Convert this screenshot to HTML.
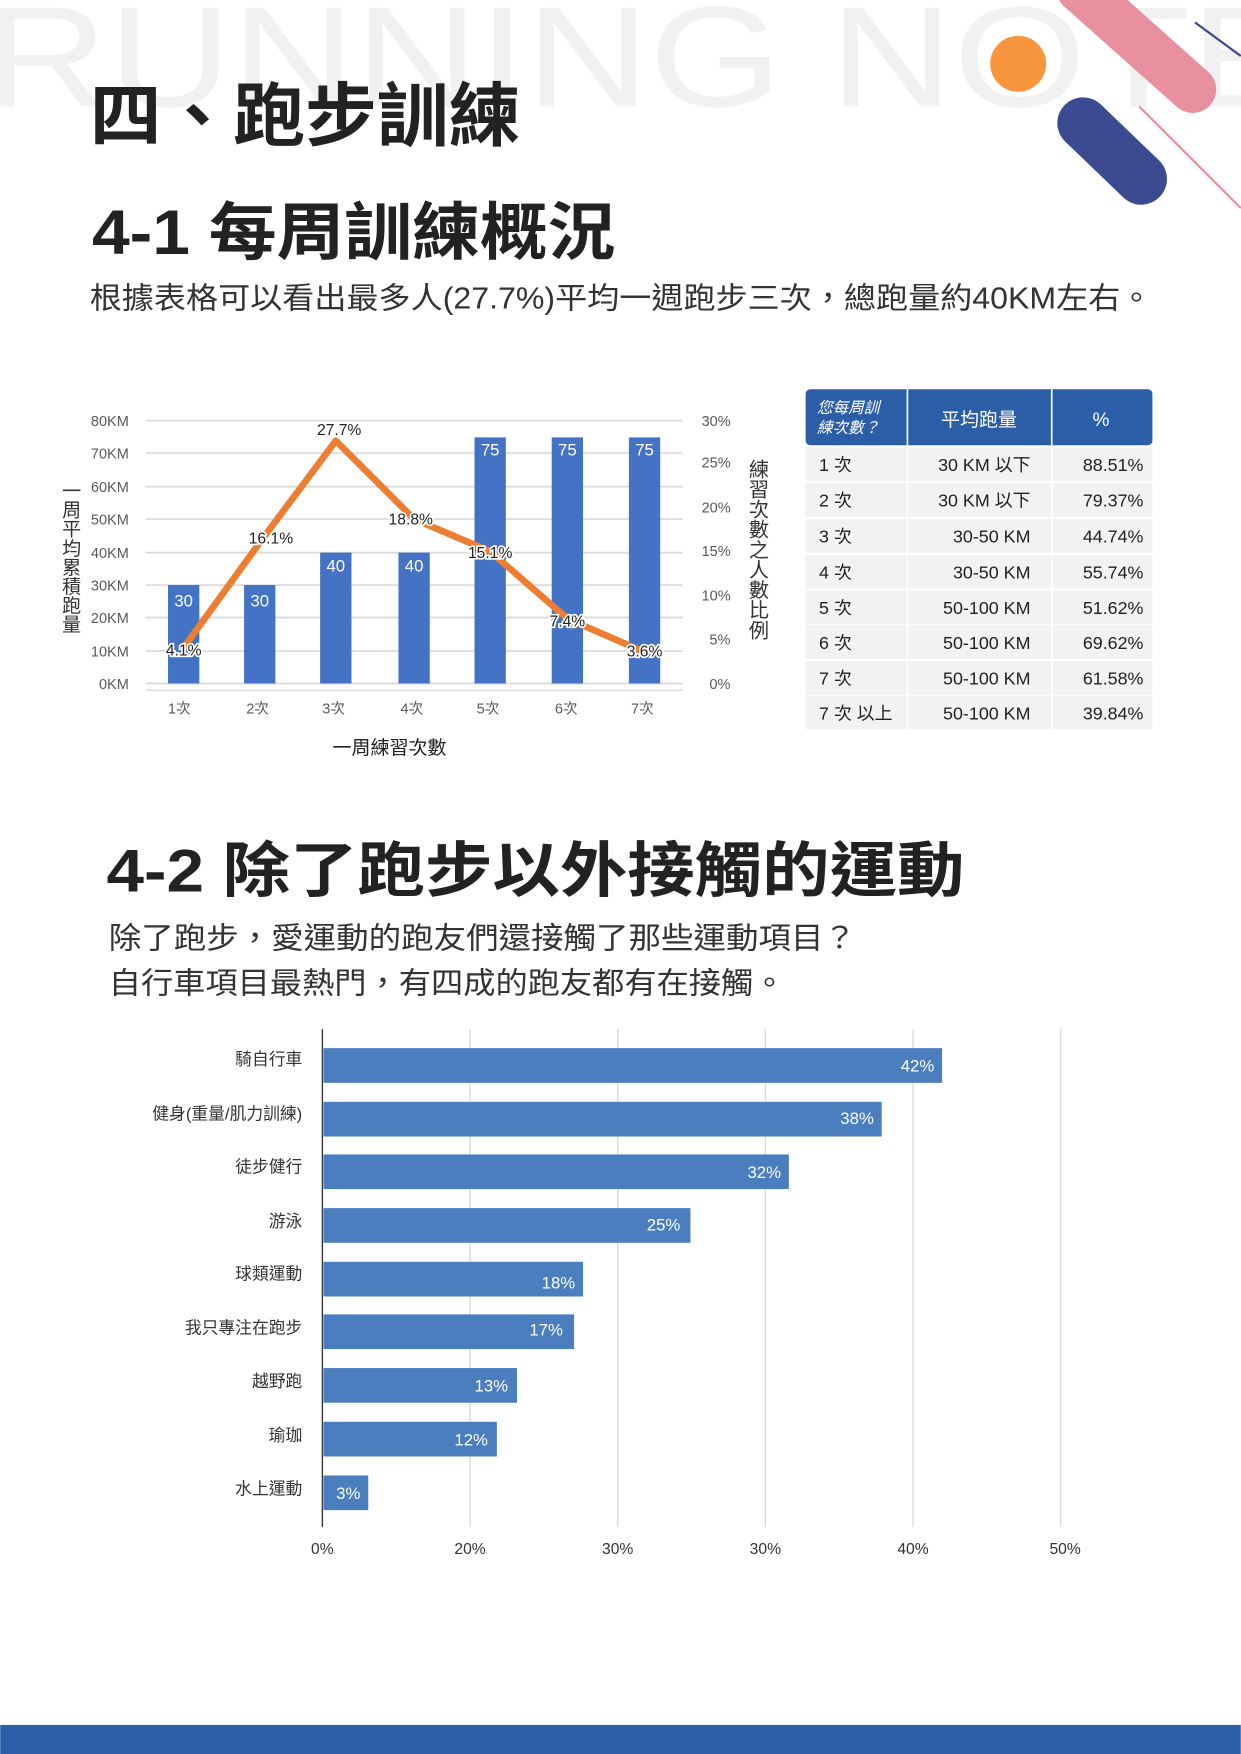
<!DOCTYPE html>
<html><head><meta charset="utf-8"><style>
html,body{margin:0;padding:0;background:#fff}
svg{display:block}
text{font-family:"Liberation Sans","Noto Sans CJK TC",sans-serif}
</style></head><body>
<svg width="1241" height="1754" viewBox="0 0 1109 1568" xmlns="http://www.w3.org/2000/svg">
<rect width="1109" height="1568" fill="#fff"/>
<text x="-14" y="95" font-size="128" fill="#f1f1f1" font-family="DejaVu Sans" font-weight="200" textLength="1180" lengthAdjust="spacingAndGlyphs">RUNNING NOTE</text>
<!-- decorations -->
<line x1="965" y1="-10" x2="1066" y2="80" stroke="#e8909f" stroke-width="42" stroke-linecap="round"/>
<circle cx="910" cy="57" r="25" fill="#f7963f"/>
<line x1="968" y1="110" x2="1020" y2="160" stroke="#3c4a92" stroke-width="46" stroke-linecap="round"/>
<line x1="1068" y1="20" x2="1109" y2="50" stroke="#3c4a92" stroke-width="2"/>
<line x1="1018" y1="95" x2="1109" y2="186" stroke="#e8909f" stroke-width="2"/>
<!-- titles -->
<text x="80" y="125" font-size="62" font-weight="bold" fill="#222" textLength="385" lengthAdjust="spacingAndGlyphs">四、跑步訓練</text>
<text x="82" y="227" font-size="56" font-weight="bold" fill="#222" textLength="468" lengthAdjust="spacingAndGlyphs">4-1 每周訓練概況</text>
<text x="80" y="276" font-size="27" fill="#333" textLength="950" lengthAdjust="spacingAndGlyphs">根據表格可以看出最多人(27.7%)平均一週跑步三次，總跑量約40KM左右。</text>
<!-- chart 1 grid -->
<g stroke="#d9d9d9" stroke-width="1.5">
<line x1="130" y1="376" x2="610" y2="376"/><line x1="130" y1="405" x2="610" y2="405"/>
<line x1="130" y1="435" x2="610" y2="435"/><line x1="130" y1="464" x2="610" y2="464"/>
<line x1="130" y1="494" x2="610" y2="494"/><line x1="130" y1="523" x2="610" y2="523"/>
<line x1="130" y1="552" x2="610" y2="552"/><line x1="130" y1="582" x2="610" y2="582"/>
<line x1="130" y1="611" x2="610" y2="611"/>
</g>
<g fill="#595959" font-size="13" text-anchor="end">
<text x="115" y="381">80KM</text><text x="115" y="410">70KM</text><text x="115" y="440">60KM</text>
<text x="115" y="469">50KM</text><text x="115" y="499">40KM</text><text x="115" y="528">30KM</text>
<text x="115" y="557">20KM</text><text x="115" y="587">10KM</text><text x="115" y="616">0KM</text>
</g>
<g fill="#595959" font-size="13">
<text x="627" y="381">30%</text><text x="627" y="418">25%</text><text x="627" y="458">20%</text>
<text x="627" y="497">15%</text><text x="627" y="537">10%</text><text x="634" y="576">5%</text><text x="634" y="616">0%</text>
</g>
<g fill="#4472c4">
<rect x="150" y="523" width="28" height="88"/><rect x="218" y="523" width="28" height="88"/>
<rect x="286" y="494" width="28" height="117"/><rect x="356" y="494" width="28" height="117"/>
<rect x="424" y="391" width="28" height="220"/><rect x="493" y="391" width="28" height="220"/>
<rect x="562" y="391" width="28" height="220"/>
</g>
<g fill="#fff" font-size="15" text-anchor="middle">
<text x="164" y="542">30</text><text x="232" y="542">30</text><text x="300" y="511">40</text>
<text x="370" y="511">40</text><text x="438" y="407">75</text><text x="507" y="407">75</text><text x="576" y="407">75</text>
</g>
<polyline points="164,579 232,485 300,394 370,464 438,493 507,553 576,583" fill="none" stroke="#ed7d31" stroke-width="6" stroke-linejoin="round"/>
<g font-size="14" text-anchor="middle" fill="#222" stroke="#fff" stroke-width="3" paint-order="stroke">
<text x="164" y="586">4.1%</text><text x="242" y="486">16.1%</text><text x="303" y="389">27.7%</text>
<text x="367" y="469">18.8%</text><text x="438" y="499">15.1%</text><text x="507" y="560">7.4%</text><text x="576" y="587">3.6%</text>
</g>
<line x1="130" y1="617" x2="610" y2="617" stroke="#d0d0d0"/>
<g fill="#595959" font-size="13" text-anchor="middle">
<text x="160" y="638">1次</text><text x="230" y="638">2次</text><text x="298" y="638">3次</text>
<text x="368" y="638">4次</text><text x="436" y="638">5次</text><text x="506" y="638">6次</text><text x="574" y="638">7次</text>
</g>
<text x="348" y="674" font-size="17" fill="#222" text-anchor="middle">一周練習次數</text>
<text x="62" y="430" font-size="17" fill="#333" style="writing-mode:vertical-rl">一周平均累積跑量</text>
<text x="676" y="410" font-size="18" fill="#333" style="writing-mode:vertical-rl">練習次數之人數比例</text>
<!-- table -->
<rect x="720" y="348" width="310" height="50" rx="4" fill="#2b5ea7"/>
<line x1="811" y1="348" x2="811" y2="398" stroke="#fff" stroke-width="1.5"/>
<line x1="940" y1="348" x2="940" y2="398" stroke="#fff" stroke-width="1.5"/>
<g fill="#fff" font-style="italic" font-size="14">
<text x="730" y="369">您每周訓</text><text x="730" y="387">練次數？</text>
</g>
<text x="875" y="381" fill="#fff" font-size="17" text-anchor="middle">平均跑量</text>
<text x="984" y="381" fill="#fff" font-size="17" text-anchor="middle">%</text>
<g fill="#f1f2f4">
<rect x="720" y="400" width="310" height="30"/><rect x="720" y="432" width="310" height="30"/>
<rect x="720" y="464" width="310" height="30"/><rect x="720" y="496" width="310" height="30"/>
<rect x="720" y="528" width="310" height="30"/><rect x="720" y="559" width="310" height="30"/>
<rect x="720" y="591" width="310" height="30"/><rect x="720" y="622" width="310" height="30"/>
</g>
<line x1="811" y1="400" x2="811" y2="654" stroke="#fff" stroke-width="1.5"/>
<line x1="940" y1="400" x2="940" y2="654" stroke="#fff" stroke-width="1.5"/>
<g fill="#222" font-size="16">
<text x="732" y="421">1 次</text><text x="732" y="453">2 次</text><text x="732" y="485">3 次</text>
<text x="732" y="517">4 次</text><text x="732" y="549">5 次</text><text x="732" y="580">6 次</text>
<text x="732" y="612">7 次</text><text x="732" y="643">7 次 以上</text>
</g>
<g fill="#222" font-size="16" text-anchor="end">
<text x="921" y="421">30 KM 以下</text><text x="921" y="453">30 KM 以下</text><text x="921" y="485">30-50 KM</text>
<text x="921" y="517">30-50 KM</text><text x="921" y="549">50-100 KM</text><text x="921" y="580">50-100 KM</text>
<text x="921" y="612">50-100 KM</text><text x="921" y="643">50-100 KM</text>
<text x="1022" y="421">88.51%</text><text x="1022" y="453">79.37%</text><text x="1022" y="485">44.74%</text>
<text x="1022" y="517">55.74%</text><text x="1022" y="549">51.62%</text><text x="1022" y="580">69.62%</text>
<text x="1022" y="612">61.58%</text><text x="1022" y="643">39.84%</text>
</g>
<!-- section 4-2 -->
<text x="95" y="797" font-size="54" font-weight="bold" fill="#222" textLength="767" lengthAdjust="spacingAndGlyphs">4-2 除了跑步以外接觸的運動</text>
<text x="97" y="848" font-size="27" fill="#333" textLength="668" lengthAdjust="spacingAndGlyphs">除了跑步，愛運動的跑友們還接觸了那些運動項目？</text>
<text x="97" y="888" font-size="27" fill="#333" textLength="605" lengthAdjust="spacingAndGlyphs">自行車項目最熱門，有四成的跑友都有在接觸。</text>
<g stroke="#d9d9d9" stroke-width="1.2">
<line x1="420" y1="920" x2="420" y2="1365"/><line x1="552" y1="920" x2="552" y2="1365"/>
<line x1="684" y1="920" x2="684" y2="1365"/><line x1="816" y1="920" x2="816" y2="1365"/>
<line x1="948" y1="920" x2="948" y2="1365"/>
</g>
<line x1="288" y1="920" x2="288" y2="1365" stroke="#333" stroke-width="1.2"/>
<g fill="#4a7ebf">
<rect x="289" y="937" width="553" height="31"/><rect x="289" y="985" width="499" height="31"/>
<rect x="289" y="1032" width="416" height="31"/><rect x="289" y="1080" width="328" height="31"/>
<rect x="289" y="1128" width="232" height="31"/><rect x="289" y="1175" width="224" height="31"/>
<rect x="289" y="1223" width="173" height="31"/><rect x="289" y="1271" width="155" height="31"/>
<rect x="289" y="1319" width="40" height="31"/>
</g>
<g fill="#fff" font-size="15" text-anchor="end">
<text x="835" y="958">42%</text><text x="781" y="1005">38%</text><text x="698" y="1053">32%</text>
<text x="608" y="1100">25%</text><text x="514" y="1152">18%</text><text x="503" y="1194">17%</text>
<text x="454" y="1244">13%</text><text x="436" y="1292">12%</text><text x="322" y="1340">3%</text>
</g>
<g fill="#333" font-size="15" text-anchor="end">
<text x="270" y="952">騎自行車</text><text x="270" y="1001">健身(重量/肌力訓練)</text>
<text x="270" y="1048">徒步健行</text><text x="270" y="1097">游泳</text>
<text x="270" y="1144">球類運動</text><text x="270" y="1192">我只專注在跑步</text>
<text x="270" y="1240">越野跑</text><text x="270" y="1288">瑜珈</text><text x="270" y="1336">水上運動</text>
</g>
<g fill="#333" font-size="14" text-anchor="middle">
<text x="288" y="1389">0%</text><text x="420" y="1389">20%</text><text x="552" y="1389">30%</text>
<text x="684" y="1389">30%</text><text x="816" y="1389">40%</text><text x="952" y="1389">50%</text>
</g>
<rect x="0" y="1542" width="1109" height="26" fill="#2b5ea7"/>
</svg>
</body></html>
